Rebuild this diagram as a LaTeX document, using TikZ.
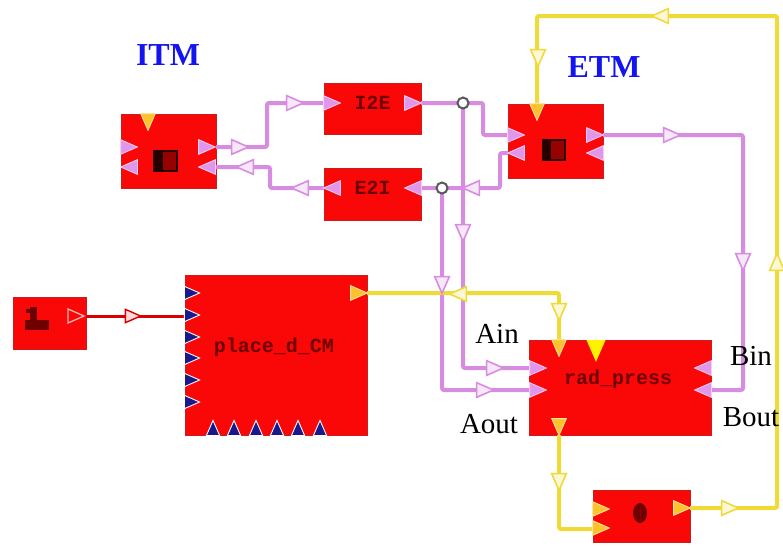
\documentclass[tikz,border=0pt]{standalone}
\usepackage{fontspec}
\setmainfont{Liberation Serif}
\newfontfamily\blockfont{Liberation Mono}
\usepackage{tikz}
\usetikzlibrary{positioning}
\definecolor{blockred}{RGB}{250,8,8}
\definecolor{blockedge}{RGB}{205,30,30}
\definecolor{wirepink}{RGB}{215,140,225}
\definecolor{portpink}{RGB}{225,150,235}
\definecolor{wireyellow}{RGB}{240,218,55}
\definecolor{portorange}{RGB}{250,195,45}
\definecolor{portnavy}{RGB}{25,25,140}
\definecolor{labelblue}{RGB}{20,20,240}
\definecolor{icondark}{RGB}{110,0,0}
% #1 style, (#2,#3) centre, #4 direction
\newcommand{\drawtri}[4]{\path[shift={(#2,#3)}, rotate=#4, #1] (-8,-7) -- (8,0) -- (-8,7) -- cycle;}

\begin{document}
\begin{tikzpicture}[
  x=1pt, y=-1pt,
  block/.style={rectangle, draw=blockedge, fill=blockred, line width=0.8pt,
    inner sep=0pt, outer sep=0pt},
  blocktext/.style={font=\blockfont\bfseries\fontsize{20}{20}\selectfont,
    text=icondark, inner sep=0pt},
  tmlabel/.style={font=\bfseries\fontsize{32}{32}\selectfont, text=labelblue,
    inner sep=0pt, anchor=base},
  portlabel/.style={font=\fontsize{29}{29}\selectfont, inner sep=0pt, anchor=base},
  pinkwire/.style={draw=wirepink, line width=4pt, rounded corners=2pt},
  yellowwire/.style={draw=wireyellow, line width=4pt, rounded corners=2pt},
  redwire/.style={draw=red!85!black, line width=3pt},
  pinkport/.style={fill=portpink, draw=white!55!portpink, line width=0.8pt, scale=1.05},
  yellowport/.style={fill=portorange, draw=white!55!portorange, line width=0.8pt, scale=1.05},
  navyport/.style={fill=portnavy, draw=white, line width=0.9pt, scale=0.95},
  brightport/.style={fill=yellow, scale=1.35},
  hollowport/.style={fill=blockred, draw=white!70!red, line width=1.3pt},
  pinkflow/.style={fill=white!80!wirepink, draw=wirepink, line width=1.6pt, scale=1.05},
  yellowflow/.style={fill=white!80!wireyellow, draw=wireyellow, line width=1.6pt, scale=1.05},
  redflow/.style={fill=white!85!red, draw=red!85!black, line width=1.4pt, scale=0.95},
  joint/.style={circle, draw=gray!70!black, fill=white, line width=2pt,
    minimum size=11pt, inner sep=0pt},
]
  \useasboundingbox (0,0) rectangle (783,546);

  % blocks
  \node[block, minimum width=95pt, minimum height=74pt]   (itm)   at (168.5,151) {};
  \node[block, minimum width=97pt, minimum height=51pt]   (i2e)   at (372.5,108.5) {};
  \node[block, minimum width=97pt, minimum height=52pt]   (e2i)   at (372.5,194) {};
  \node[block, minimum width=95pt, minimum height=74pt]   (etm)   at (555.5,141) {};
  \node[block, minimum width=73pt, minimum height=52pt]   (src)   at (49.5,323) {};
  \node[block, minimum width=182pt, minimum height=160pt] (place) at (276,355) {};
  \node[block, minimum width=182pt, minimum height=95pt]  (rad)   at (620,387.5) {};
  \node[block, minimum width=97pt, minimum height=52pt]   (clock) at (641.5,516) {};

  % ports
  \coordinate (itm-out)   at ([yshift=4pt]itm.east);
  \coordinate (itm-in)    at ([yshift=-16pt]itm.east);
  \coordinate (i2e-in)    at ([yshift=5.5pt]i2e.west);
  \coordinate (i2e-out)   at ([yshift=5.5pt]i2e.east);
  \coordinate (e2i-out)   at ([yshift=6pt]e2i.west);
  \coordinate (e2i-in)    at ([yshift=6pt]e2i.east);
  \coordinate (etm-in)    at ([yshift=6pt]etm.west);
  \coordinate (etm-back)  at ([yshift=-12pt]etm.west);
  \coordinate (etm-out)   at ([yshift=6pt]etm.east);
  \coordinate (etm-top)   at ([xshift=-18.5pt]etm.north);
  \coordinate (src-out)   at ([yshift=7pt]src.east);
  \coordinate (place-in)  at (place.west |- src-out);
  \coordinate (place-out) at ([yshift=-18pt]place.north east);
  \coordinate (rad-top)   at ([xshift=-61pt]rad.north);
  \coordinate (rad-a1)    at ([yshift=19.5pt]rad.west);
  \coordinate (rad-a2)    at ([yshift=-2.5pt]rad.west);
  \coordinate (rad-b)     at ([yshift=-2.5pt]rad.east);
  \coordinate (rad-bot)   at ([xshift=-61pt]rad.south);
  \coordinate (clock-in)  at ([yshift=-13pt]clock.west);
  \coordinate (clock-out) at ([yshift=8pt]clock.east);
  \coordinate (j-i2e)     at ([xshift=42pt]i2e-out);
  \coordinate (j-e2i)     at ([xshift=21pt]e2i-in);
  \coordinate (loop)      at (777,16);

  % links
  \draw[pinkwire] (itm-out) -- ++(51,0) |- (i2e-in);
  \draw[pinkwire] (e2i-out) -- ++(-54,0) |- (itm-in);
  \draw[pinkwire] (i2e-out) -- ++(62,0) |- (etm-in);
  \draw[pinkwire] (j-i2e) |- (rad-a1);
  \draw[pinkwire] (etm-back) -- ++(-8,0) |- (e2i-in);
  \draw[pinkwire] (j-e2i) |- (rad-a2);
  \draw[pinkwire] (etm-out) -- ++(140,0) |- (rad-b);
  \draw[yellowwire] (place-out) -| (rad-top);
  \draw[yellowwire] (rad-bot) |- (clock-in);
  \draw[yellowwire] (clock-out) -| (loop) -| (etm-top);
  \draw[redwire] (src-out) -- (place-in);

  \node[joint] (dot1) at (j-i2e) {};
  \node[joint] (dot2) at (j-e2i) {};

  % flow marks
  \foreach \x/\y/\a in {240/147/0, 295/103/0, 300/188/180, 245/167/180,
      471/188/180, 463/233/-90, 495/368/0, 442/285/-90, 485/390/0,
      672/135/0, 743/262/-90}
    {\drawtri{pinkflow}{\x}{\y}{\a}}
  \foreach \x/\y/\a in {559/312/-90, 458/294/180, 559/482/-90, 730/508/0,
      777/262/90, 660/16/180, 538/58/-90}
    {\drawtri{yellowflow}{\x}{\y}{\a}}
  \drawtri{redflow}{133}{316}{0}

  % block ports
  \drawtri{yellowport}{148}{122}{-90}
  \foreach \x/\y/\a in {129/147/0, 129/167/180, 207/147/0, 207/167/180,
      332/103/0, 413/103/0, 332/188/180, 413/188/180,
      516/135/0, 516/153/180, 595/135/0, 595/153/180,
      538/368/0, 538/390/0, 703/368/180, 703/390/180}
    {\drawtri{pinkport}{\x}{\y}{\a}}
  \drawtri{yellowport}{537}{112}{-90}
  \drawtri{hollowport}{76}{316}{0}
  \foreach \y in {293,315,337,358,380,402}
    {\drawtri{navyport}{192}{\y}{0}}
  \foreach \x in {213,234,256,277,298,320}
    {\drawtri{navyport}{\x}{428}{90}}
  \drawtri{yellowport}{359}{293}{0}
  \drawtri{yellowport}{559}{348}{-90}
  \drawtri{brightport}{596}{351}{-90}
  \drawtri{yellowport}{559}{427}{-90}
  \drawtri{yellowport}{601}{509}{0}
  \drawtri{yellowport}{601}{528}{0}
  \drawtri{yellowport}{682}{508}{0}

  % icons
  \fill[black!85!red] (153,150) rectangle (163,172);
  \draw[line width=2pt, draw=black!85!red, fill=red!60!black] (162,151) rectangle (177,171);
  \fill[black!85!red] (542,139) rectangle (551,161);
  \draw[line width=2pt, draw=black!85!red, fill=red!60!black] (550,140) rectangle (565,160);
  \fill[icondark] (30,307) rectangle (37,320);
  \fill[icondark] (26,309) rectangle (31,313);
  \fill[icondark] (25,320) rectangle (49,330);
  \fill[icondark] (640,513) ellipse [x radius=7, y radius=10];
  \draw[red!55!black, line width=1pt] (640,506) -- (640,520);

  % texts
  \node[blocktext] (i2e-txt) at ([yshift=5.5pt]i2e.center) {I2E};
  \node[blocktext] (e2i-txt) at ([yshift=6pt]e2i.center) {E2I};
  \node[blocktext, anchor=base] (place-txt) at (274,352) {place\_d\_CM};
  \node[blocktext, anchor=base] (rad-txt)   at (618,384) {rad\_press};

  \node[tmlabel] (itm-lbl) at (168,65) {ITM};
  \node[tmlabel] (etm-lbl) at (604,77) {ETM};
  \node[portlabel] (ain-lbl)  at (497,343) {Ain};
  \node[portlabel] (bin-lbl)  at (751,365) {Bin};
  \node[portlabel] (aout-lbl) at (489,433) {Aout};
  \node[portlabel] (bout-lbl) at (751,426) {Bout};
\end{tikzpicture}
\end{document}
